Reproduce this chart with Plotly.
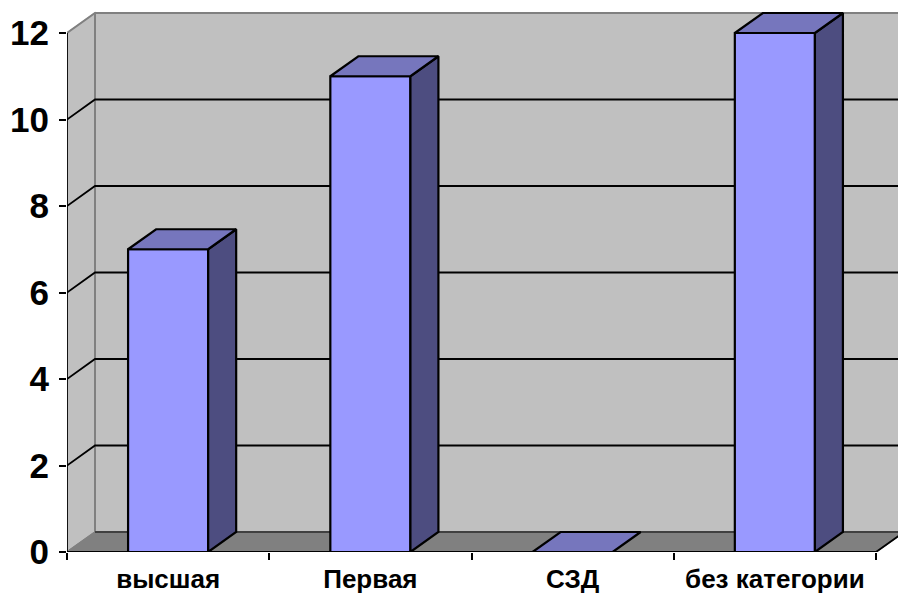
import plotly.graph_objects as go

categories = ["высшая", "Первая", "СЗД", "без категории"]
values = [7, 11, 0, 12]
y_ticks = [0, 2, 4, 6, 8, 10, 12]

BAR_W = 0.396
DX = 28 / 202.25   # depth in band units
DY = 20 / 43.25    # depth in value units
X_L, X_R = -0.5, 3.5
PX_W, PX_H = 898, 593
ML, MT, MB = 67, 8, 41
x_range = [X_L, X_L + (PX_W - ML) / 202.25]
y_range = [0, (PX_H - MB - MT) / 43.25]

WALL, FLOOR, EDGE = "#C0C0C0", "#808080", "#808080"
FRONT, TOP, SIDE = "#9999FF", "#7676BD", "#4D4D80"


def path(pts):
    return "M" + " L".join(f"{x},{y}" for x, y in pts) + " Z"


def open_path(pts):
    return "M" + " L".join(f"{x},{y}" for x, y in pts)


shapes = []
def poly(pts, fill, color=None, w=1.5):
    shapes.append(dict(type="path", path=path(pts), fillcolor=fill, layer="below",
                       line=dict(color=color or fill, width=w)))
def line(pts, color, w=1.8):
    shapes.append(dict(type="path", path=open_path(pts), layer="below",
                       line=dict(color=color, width=w)))

top = y_ticks[-1]
poly([(X_L + DX, DY), (X_R + DX, DY), (X_R + DX, top + DY), (X_L + DX, top + DY)], WALL)
poly([(X_L, 0), (X_L + DX, DY), (X_L + DX, top + DY), (X_L, top)], WALL)
poly([(X_L, 0), (X_R, 0), (X_R + DX, DY), (X_L + DX, DY)], FLOOR)
line([(X_L, top), (X_L + DX, top + DY), (X_R + DX, top + DY)], EDGE, 2)
line([(X_L + DX, DY), (X_L + DX, top + DY)], EDGE, 2)
line([(X_L, 0), (X_L + DX, DY)], EDGE, 1.5)
line([(X_L + DX, DY), (X_R + DX, DY)], "#404040", 1.8)
for t in y_ticks[1:-1]:
    line([(X_L, t), (X_L + DX, t + DY), (X_R + DX, t + DY)], "black", 1.8)
line([(X_L, top), (X_L, 0), (X_R, 0), (X_R + DX, DY)], "black", 1.8)

fig = go.Figure()
fig.add_trace(go.Bar(x=list(range(len(categories))), y=values, width=BAR_W,
                     marker=dict(color=FRONT, line=dict(color="black", width=2.2)),
                     showlegend=False, hoverinfo="skip"))
for i, v in enumerate(values):
    l, r = i - BAR_W / 2, i + BAR_W / 2
    if v > 0:
        xs = [r, r + DX, r + DX, r, r]
        ys = [0, DY, v + DY, v, 0]
        fig.add_trace(go.Scatter(x=xs, y=ys, mode="lines", fill="toself", fillcolor=SIDE,
                                 line=dict(color="black", width=2.2), showlegend=False, hoverinfo="skip"))
    xs = [l, r, r + DX, l + DX, l]
    ys = [v, v, v + DY, v + DY, v]
    fig.add_trace(go.Scatter(x=xs, y=ys, mode="lines", fill="toself", fillcolor=TOP,
                             line=dict(color="black", width=2.2), showlegend=False, hoverinfo="skip"))

fig.update_layout(
    width=PX_W, height=PX_H,
    margin=dict(l=ML, r=0, t=MT, b=MB, pad=0, autoexpand=False),
    paper_bgcolor="white", plot_bgcolor="white",
    shapes=shapes, showlegend=False,
    font=dict(family="Liberation Sans", color="black"),
    xaxis=dict(range=x_range, showgrid=False, zeroline=False, showline=False, automargin=False,
               tickmode="array", tickvals=list(range(len(categories))), ticktext=[f"<b>{c}</b>" for c in categories],
               ticks="", tickfont=dict(size=26, family="Liberation Sans", color="black"),
               ticklabelstandoff=9,
               minor=dict(tickmode="array", tickvals=[X_L + k for k in range(5)], ticks="outside",
                          ticklen=7, tickwidth=1.8, tickcolor="black", showgrid=False)),
    yaxis=dict(range=y_range, showgrid=False, zeroline=False, showline=False, automargin=False,
               tickmode="array", tickvals=y_ticks, ticktext=[f"<b>{t}</b>" for t in y_ticks],
               ticks="outside", ticklen=7, tickwidth=1.8, tickcolor="black",
               tickfont=dict(size=35, family="Liberation Sans", color="black"),
               ticklabelstandoff=3),
)
fig.write_html("out.html", config={"displayModeBar": False},
               post_script="document.body.style.margin='0';document.documentElement.style.overflow='hidden';")
